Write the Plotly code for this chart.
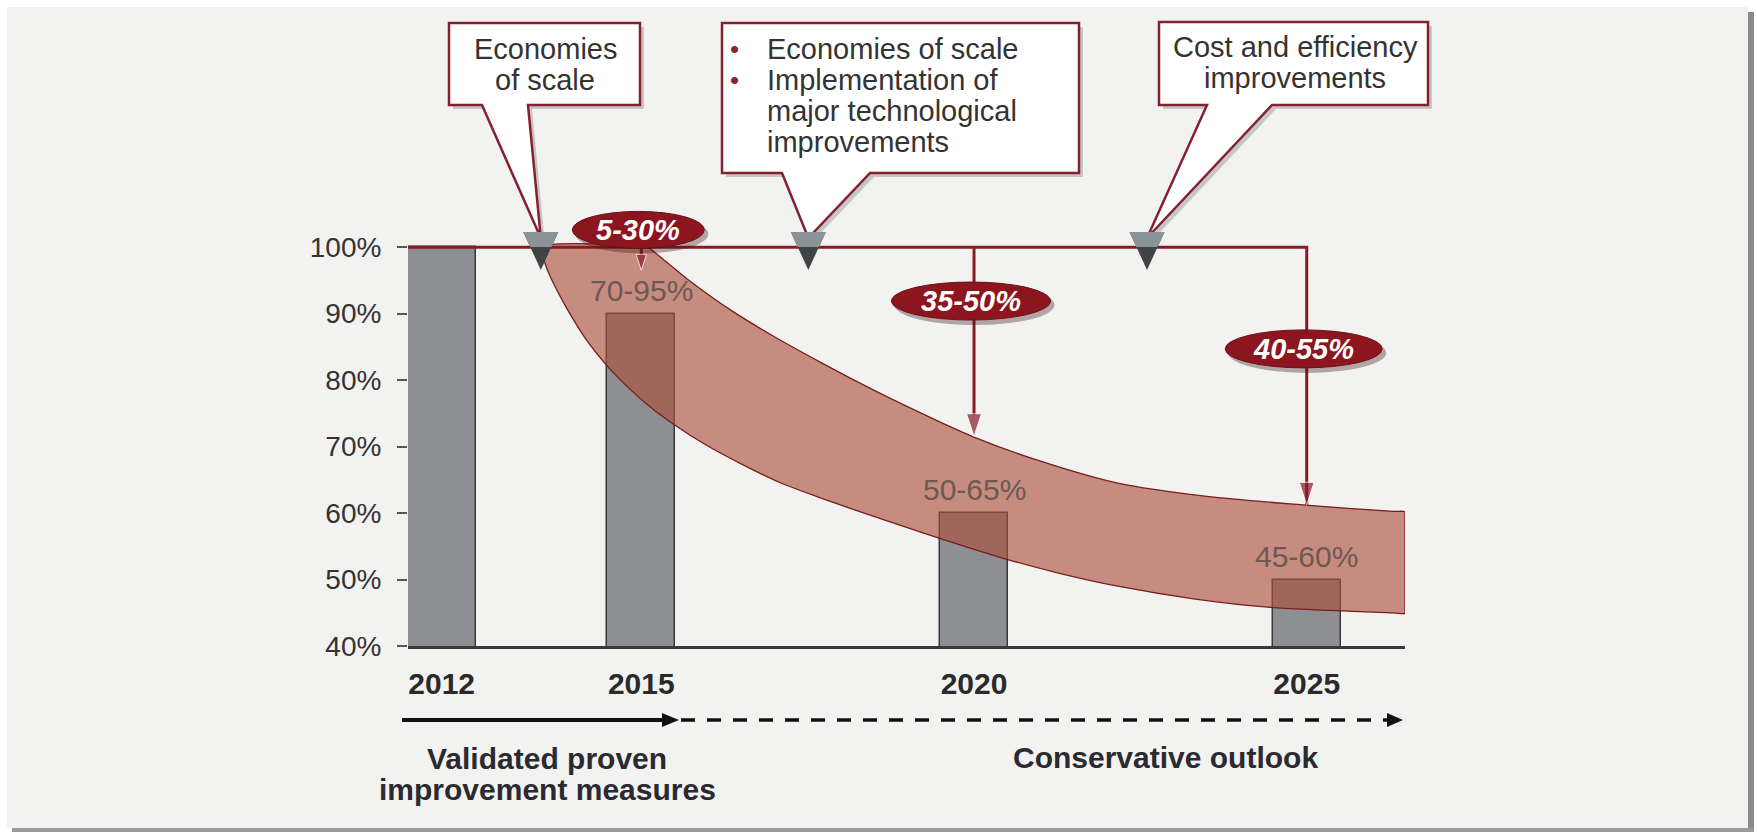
import plotly.graph_objects as go

# ---------------- data ----------------
years = [2012, 2015, 2020, 2025]
bar_values = [100, 90, 60, 50]
bar_labels = ["", "70-95%", "50-65%", "45-60%"]
y_ticks = [40, 50, 60, 70, 80, 90, 100]

arrow_years = [2015, 2020, 2025]
arrow_tips = [96.5, 71.5, 61.2]
reduction_labels = ["5-30%", "35-50%", "40-55%"]
reduction_label_y = [102.6, 91.9, 84.7]

band_lower_x = [2013.48, 2013.53, 2013.60, 2013.88, 2014.23, 2014.63, 2015.13, 2015.48,
                2015.98, 2016.50, 2017.08, 2017.69, 2018.14, 2019.30, 2020.44, 2021.30,
                2022.16, 2023.30, 2024.46, 2026.30, 2026.477, 2026.477]
band_lower_y = [100, 98.3, 96.3, 90.8, 85.3, 80.6, 76.0, 73.4,
                70.2, 67.4, 64.6, 62.3, 60.7, 56.8, 53.2, 50.9,
                49.0, 47.1, 45.8, 44.98, 44.9, 45.3]
band_upper_x = [2015.10, 2015.13, 2015.68, 2016.38, 2017.04, 2017.69, 2018.14, 2019.00,
                2019.98, 2021.00, 2022.16, 2023.50, 2024.98, 2026.30, 2026.477, 2026.477]
band_upper_y = [100, 99.8, 95.3, 90.3, 86.3, 82.7, 80.3, 76.0,
                71.5, 67.8, 64.5, 62.5, 61.2, 60.25, 60.2, 59.8]

milestone_years = [2013.49, 2017.51, 2022.60]
callout_texts = [["Economies", "of scale"],
                 ["Economies of scale", "Implementation of", "major technological", "improvements"],
                 ["Cost and efficiency", "improvements"]]
timeline_texts = [["Validated proven", "improvement measures"], ["Conservative outlook"]]

# ---------------- geometry helpers ----------------
W, H = 1757, 832
ML, MR, MT, MB = 408, 352, 241, 186
PW, PH = W - ML - MR, H - MT - MB
X0, X1 = 2011.494, 2026.477
Y0, Y1 = 40, 100.93

def px2x(px):
    return (px - ML) / PW

def py2y(py):
    return (H - MB - py) / PH

def yr2px(yr):
    return ML + (yr - X0) / (X1 - X0) * PW

def pct2py(p):
    return H - MB - (p - Y0) / (Y1 - Y0) * PH

def ppath(points):
    return "M " + " L ".join(f"{px2x(x):.5f},{py2y(y):.5f}" for x, y in points) + " Z"

FONT = "Liberation Sans, Arial, sans-serif"
DARKRED = "#8a1a24"
shapes = []
annotations = []

# panel background + shadow
shapes.append(dict(type="rect", xref="paper", yref="paper", layer="below",
                   x0=px2x(7), x1=px2x(1748), y0=py2y(828), y1=py2y(7),
                   fillcolor="#f2f2f1", line=dict(width=0)))
shapes.append(dict(type="rect", xref="paper", yref="paper", layer="below",
                   x0=px2x(1748), x1=px2x(1754), y0=py2y(832), y1=py2y(12),
                   fillcolor="#8a8a8a", line=dict(width=0)))
shapes.append(dict(type="rect", xref="paper", yref="paper", layer="below",
                   x0=px2x(12), x1=px2x(1754), y0=py2y(832), y1=py2y(828),
                   fillcolor="#9a9a9a", line=dict(width=0)))

# ---------------- traces ----------------
fig = go.Figure()
fig.add_trace(go.Bar(x=years, y=bar_values, width=1.02,
                     marker=dict(color="#8e8f92", line=dict(color="#3a3a3a", width=1.5)),
                     hoverinfo="skip"))
band_x = band_lower_x + band_upper_x[::-1] + [band_lower_x[0]]
band_y = band_lower_y + band_upper_y[::-1] + [band_lower_y[0]]
fig.add_trace(go.Scatter(x=band_x, y=band_y, mode="lines", fill="toself",
                         fillcolor="rgba(172,78,58,0.62)",
                         line=dict(color="#7a1c1c", width=1.3, shape="spline", smoothing=0.8),
                         hoverinfo="skip"))

# red reduction lines with arrows
fig.add_trace(go.Scatter(x=[X0, arrow_years[2], arrow_years[2]],
                         y=[100, 100, arrow_tips[2]], mode="lines+markers",
                         line=dict(color=DARKRED, width=3),
                         marker=dict(symbol="arrow", angleref="previous",
                                     size=[0, 0, 24], color=DARKRED),
                         hoverinfo="skip"))
for yr, tip, sz in zip(arrow_years[:2], arrow_tips[:2], [17, 24]):
    fig.add_trace(go.Scatter(x=[yr, yr], y=[100, tip], mode="lines+markers",
                             line=dict(color=DARKRED, width=3),
                             marker=dict(symbol="arrow", angleref="previous",
                                         size=[0, sz], color=DARKRED),
                             hoverinfo="skip"))

# bar value labels (sit inside the translucent band)
for yr, v, lab in zip(years, bar_values, bar_labels):
    if lab:
        annotations.append(dict(x=yr, y=v, xref="x", yref="y", text=lab, showarrow=False,
                                xanchor="center", yanchor="bottom", yshift=5,
                                font=dict(family=FONT, size=30, color="#6e5852")))

# ---------------- reduction ellipses ----------------
ell_sizes = [(132, 37), (159, 38), (157, 38)]
for yr, lab, ly, (ew, eh) in zip(arrow_years, reduction_labels, reduction_label_y, ell_sizes):
    cx, cy = yr2px(yr) - 3, pct2py(ly)
    shapes.append(dict(type="circle", xref="paper", yref="paper", layer="above",
                       x0=px2x(cx - ew / 2 + 3), x1=px2x(cx + ew / 2 + 4),
                       y0=py2y(cy + eh / 2 + 5), y1=py2y(cy - eh / 2 + 3),
                       fillcolor="rgba(60,20,20,0.35)", line=dict(width=0)))
    shapes.append(dict(type="circle", xref="paper", yref="paper", layer="above",
                       x0=px2x(cx - ew / 2), x1=px2x(cx + ew / 2),
                       y0=py2y(cy + eh / 2), y1=py2y(cy - eh / 2),
                       fillcolor="#8c1620", line=dict(color="#6e0f16", width=1)))
    annotations.append(dict(xref="paper", yref="paper", x=px2x(cx), y=py2y(cy),
                            text=lab, showarrow=False, xanchor="center", yanchor="middle",
                            font=dict(family=FONT, size=29, color="white",
                                      weight="bold", style="italic")))

# ---------------- callouts ----------------
boxes = [(449, 23, 640, 105, 482, 528),
         (722, 23, 1079, 173, 782, 870),
         (1159, 22, 1428, 105, 1207, 1272)]
for (l, t, r, b, bl, br), my in zip(boxes, milestone_years):
    tipx, tipy = yr2px(my), 238
    pts = [(l, t), (r, t), (r, b), (br, b), (tipx, tipy), (bl, b), (l, b)]
    shadow = [(x + 4, y + 4) for x, y in pts]
    shapes.append(dict(type="path", xref="paper", yref="paper", layer="above",
                       path=ppath(shadow), fillcolor="rgba(0,0,0,0.18)", line=dict(width=0)))
    shapes.append(dict(type="path", xref="paper", yref="paper", layer="above",
                       path=ppath(pts), fillcolor="white",
                       line=dict(color="#85202e", width=2.5)))

# milestone triangles (two-tone metallic)
for my in milestone_years:
    cx = yr2px(my)
    top, tip, hw = 232, 270, 17.5
    shapes.append(dict(type="path", xref="paper", yref="paper", layer="above",
                       path=ppath([(cx - hw, top), (cx + hw, top), (cx, tip)]),
                       fillcolor="#3f4446", line=dict(width=0)))
    mid = 247
    hw2 = hw * (tip - mid) / (tip - top)
    shapes.append(dict(type="path", xref="paper", yref="paper", layer="above",
                       path=ppath([(cx - hw, top), (cx + hw, top), (cx + hw2, mid), (cx - hw2, mid)]),
                       fillcolor="#8a9496", line=dict(width=0)))

TXT = dict(family=FONT, size=29, color="#333333")
# box 1
for txt, y in zip(callout_texts[0], [49, 80]):
    annotations.append(dict(xref="paper", yref="paper", x=px2x(545), y=py2y(y), text=txt,
                            showarrow=False, xanchor="center", yanchor="middle", font=TXT))
# box 2
for i, (txt, y) in enumerate(zip(callout_texts[1], [49, 80, 111, 142])):
    annotations.append(dict(xref="paper", yref="paper", x=px2x(765), y=py2y(y), text=txt,
                            showarrow=False, xanchor="left", yanchor="middle", font=TXT))
    if i < 2:
        annotations.append(dict(xref="paper", yref="paper", x=px2x(734), y=py2y(y), text="•",
                                showarrow=False, xanchor="center", yanchor="middle",
                                font=dict(family=FONT, size=26, color="#8b2332")))
# box 3
for txt, y in zip(callout_texts[2], [47, 78]):
    annotations.append(dict(xref="paper", yref="paper", x=px2x(1295), y=py2y(y), text=txt,
                            showarrow=False, xanchor="center", yanchor="middle", font=TXT))

# ---------------- timeline arrows ----------------
ty = 720
shapes.append(dict(type="line", xref="paper", yref="paper", layer="above",
                   x0=px2x(402), x1=px2x(666), y0=py2y(ty), y1=py2y(ty),
                   line=dict(color="#111111", width=4)))
shapes.append(dict(type="path", xref="paper", yref="paper", layer="above",
                   path=ppath([(662, ty - 7), (679, ty), (662, ty + 7)]),
                   fillcolor="#111111", line=dict(width=0)))
shapes.append(dict(type="line", xref="paper", yref="paper", layer="above",
                   x0=px2x(681), x1=px2x(1388), y0=py2y(ty), y1=py2y(ty),
                   line=dict(color="#111111", width=3.5, dash="14px,12px")))
shapes.append(dict(type="path", xref="paper", yref="paper", layer="above",
                   path=ppath([(1387, ty - 7), (1403, ty), (1387, ty + 7)]),
                   fillcolor="#111111", line=dict(width=0)))

BTXT = dict(family=FONT, size=30, color="#2a2a30", weight="bold")
for txt, y in zip(timeline_texts[0], [758, 789]):
    annotations.append(dict(xref="paper", yref="paper", x=px2x(547), y=py2y(y), text=txt,
                            showarrow=False, xanchor="center", yanchor="middle", font=BTXT))
annotations.append(dict(xref="paper", yref="paper", x=px2x(1165), y=py2y(757),
                        text=timeline_texts[1][0], showarrow=False,
                        xanchor="center", yanchor="middle", font=BTXT))

# ---------------- layout ----------------
fig.update_layout(
    width=W, height=H, autosize=False,
    margin=dict(l=ML, r=MR, t=MT, b=MB, pad=0, autoexpand=False),
    paper_bgcolor="white", plot_bgcolor="rgba(0,0,0,0)",
    showlegend=False, bargap=0,
    shapes=shapes, annotations=annotations,
    xaxis=dict(range=[X0, X1], showgrid=False, zeroline=False, showline=True,
               linecolor="#3a3a3a", linewidth=2.5, ticks="",
               tickvals=years, ticktext=[str(y) for y in years],
               tickfont=dict(family=FONT, size=30, color="#2a2a2a", weight="bold"),
               ticklabelstandoff=9, fixedrange=True),
    yaxis=dict(range=[Y0, Y1], showgrid=False, zeroline=False, showline=False,
               ticks="outside", ticklen=10, tickwidth=2, tickcolor="#555555",
               tickvals=y_ticks, ticktext=[f"{v}%" for v in y_ticks],
               tickfont=dict(family=FONT, size=28, color="#333333"),
               ticklabelstandoff=10, fixedrange=True),
)

fig.write_html("out.html")
